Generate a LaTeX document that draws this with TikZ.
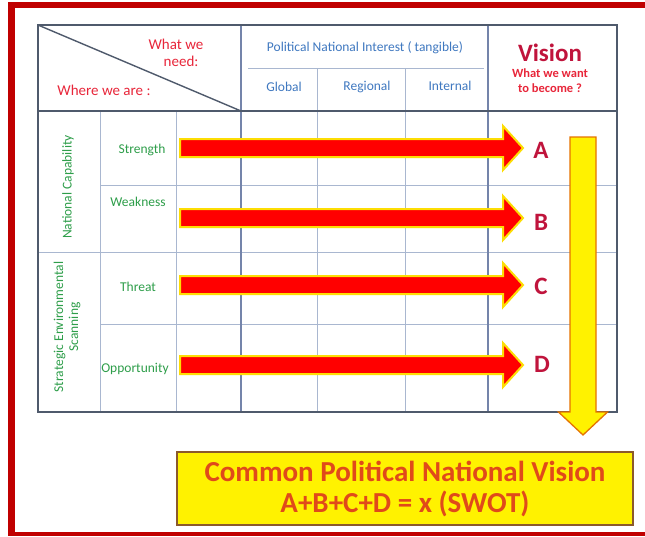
\documentclass[tikz,border=0pt]{standalone}
\usepackage{fontspec}
\setmainfont{Carlito}
\usetikzlibrary{calc}
\definecolor{frame}{HTML}{C00000}
\definecolor{grid}{HTML}{A9B7D0}
\definecolor{gridmid}{HTML}{7484AA}
\definecolor{griddark}{HTML}{4F5A6C}
\definecolor{hdrred}{HTML}{E8263A}
\definecolor{vis}{HTML}{C0143C}
\definecolor{blu}{HTML}{3F78C0}
\definecolor{grn}{HTML}{2E9E4A}
\definecolor{boxtxt}{HTML}{E04A1A}
\definecolor{boxedge}{HTML}{8B5A2B}
\tikzset{
  thin grid/.style={draw=grid, line width=0.8pt},
  mid grid/.style={draw=gridmid, line width=2pt},
  dark grid/.style={draw=griddark, line width=2.6pt},
  redhdr/.style={text=hdrred, font=\fontsize{15}{17}\selectfont, align=center},
  bluehdr/.style={text=blu, font=\fontsize{13.5}{15}\selectfont},
  greenlbl/.style={text=grn, font=\fontsize{13.5}{15}\selectfont, align=center},
  letter/.style={text=vis, font=\bfseries\fontsize{25}{27}\selectfont},
  redarrow/.style={fill=red, draw=yellow!80!orange, line width=2pt, line join=miter},
  yelarrow/.style={fill=yellow, draw=orange!90!black, line width=1.3pt, line join=miter},
}
\begin{document}
\begin{tikzpicture}[x=1pt,y=-1pt]
\useasboundingbox (0,0) rectangle (645,536);
\fill[white] (0,0) rectangle (645,536);
% red frame (top, left, bottom)
\fill[frame] (8,2) rectangle (645,7.5);
\fill[frame] (8,2) rectangle (14.5,536);
\fill[frame] (8,532) rectangle (645,536);

% table grid
\draw[thin grid] (100,185) -- (617,185);
\draw[thin grid] (100,324) -- (617,324);
\draw[thin grid] (38,252) -- (617,252);
\draw[thin grid] (100,111) -- (100,412);
\draw[thin grid] (176,111) -- (176,412);
\draw[thin grid] (317,68) -- (317,412);
\draw[thin grid] (405,68) -- (405,412);
\draw[thin grid] (248,68) -- (484,68);
\draw[mid grid] (241,25) -- (241,412);
\draw[mid grid] (488,25) -- (488,412);
\draw[dark grid] (38,111) -- (617,111);
\draw[griddark, line width=1.4pt] (38,25) -- (241,111);
\draw[dark grid] (38,25) rectangle (617,412);

% header texts
\node[redhdr] (need) at (176,53) {What we\\ \ \ \ need:};
\node[redhdr] (where) at (104,90) {Where we are :};
\node[bluehdr] (pni) at (365,48) {Political National Interest ( tangible)};
\node[bluehdr] (glob) at (284,87) {Global};
\node[bluehdr] (reg) at (367,87) {Regional};
\node[bluehdr] (int) at (450,86) {Internal};
\node[text=vis, font=\bfseries\fontsize{25}{27}\selectfont] (vision) at (550,53) {Vision};
\node[text=hdrred, font=\bfseries\fontsize{12.5}{15}\selectfont, align=center] (want) at (550,81) {What we want\\to become ?};

% left labels
\node[greenlbl, rotate=90] (natcap) at (68,187) {National Capability};
\node[greenlbl, rotate=90] (ses) at (67,327) {Strategic Environmental\\Scanning};
\node[greenlbl] (str) at (142,150) {Strength};
\node[greenlbl] (weak) at (138,202) {Weakness};
\node[greenlbl] (thr) at (138,287) {Threat};
\node[greenlbl] (opp) at (135,369) {Opportunity};

% letters
\node[letter] (A) at (541,150) {A};
\node[letter] (B) at (541,222) {B};
\node[letter] (C) at (541,286) {C};
\node[letter] (D) at (542,364) {D};

% red arrows
\foreach \n/\yy in {1/148,2/218,3/285,4/365}{
  \coordinate (s\n) at (180,\yy);
  \coordinate (t\n) at (523,\yy);
}
\foreach \n in {1,2,3,4}{
  \path[redarrow] ($(s\n)+(0,-9)$) -- ($(t\n)+(-20,-9)$) -- ($(t\n)+(-20,-22)$) -- (t\n)
     -- ($(t\n)+(-20,22)$) -- ($(t\n)+(-20,9)$) -- ($(s\n)+(0,9)$) -- cycle;
}

% yellow down arrow
\coordinate (ytop) at (583,137);
\coordinate (ytip) at (583,435);
\path[yelarrow] ($(ytop)+(-13,0)$) -- ($(ytop)+(13,0)$) -- ($(ytip)+(13,-23)$) -- ($(ytip)+(24.5,-23)$)
   -- (ytip) -- ($(ytip)+(-24.5,-23)$) -- ($(ytip)+(-13,-23)$) -- cycle;

% bottom box
\node[draw=boxedge, line width=1.6pt, fill=yellow, minimum width=456pt, minimum height=73pt,
      text=boxtxt, font=\bfseries\fontsize{29}{31}\selectfont, align=center, inner sep=0pt]
      (common) at (405,488.5) {Common Political National Vision\\A+B+C+D = x (SWOT)};
\end{tikzpicture}
\end{document}
